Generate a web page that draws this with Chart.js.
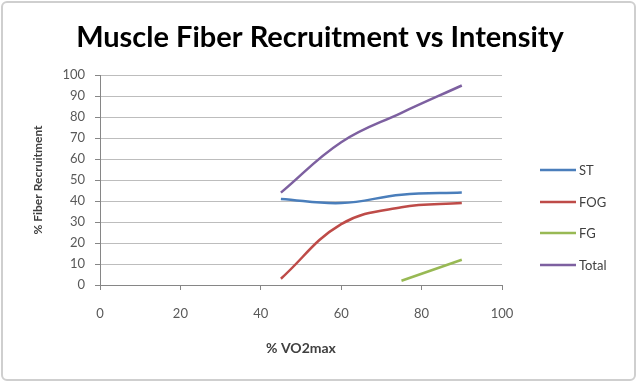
<!DOCTYPE html>
<html>
<head>
<meta charset="utf-8">
<script src="https://cdn.jsdelivr.net/npm/chart.js@4"></script>
<style>
  body { margin: 0; background: #fff; }
  #wrap { width: 637px; height: 382px; }
</style>
</head>
<body>
<div id="wrap"><canvas id="myChart" width="637" height="382"></canvas></div>
<script>
// Chart data
var stX = [45, 60, 75, 90],
    stVals = [41, 39, 43, 44];
var fogX = [45, 60, 75, 90],
    fogVals = [3, 29, 37, 39];
var fgX = [75, 90],
    fgVals = [2, 12];
var totalX = [45, 60, 75, 90],
    totalVals = [44, 68, 82, 95];

var seriesNames = ["ST", "FOG", "FG", "Total"];
var seriesColors = ['#4a7ebb', '#be4b48', '#98b954', '#7d60a0'];
var xTicks = [0, 20, 40, 60, 80, 100];
var yTicks = [0, 10, 20, 30, 40, 50, 60, 70, 80, 90, 100];
var chartTitle = 'Muscle Fiber Recruitment vs Intensity';

function pts(xs, ys) {
    return xs.map(function (x, i) { return { x: x, y: ys[i] }; });
}

var allX = [stX, fogX, fgX, totalX];
var allY = [stVals, fogVals, fgVals, totalVals];

var datasets = seriesNames.map(function (name, i) {
    return {
        label: name,
        data: pts(allX[i], allY[i]),
        borderColor: seriesColors[i],
        backgroundColor: seriesColors[i],
        borderWidth: 2.5,
        showLine: true,
        pointRadius: 0,
        tension: 0.4,
        fill: false
    };
});

// frame, title and legend drawn on the canvas
var framePlugin = {
    id: 'frame',
    beforeDraw: function (chart) {
        var c = chart.ctx;
        c.save();
        c.fillStyle = '#fff';
        c.fillRect(0, 0, chart.width, chart.height);
        c.strokeStyle = '#cfcfcf';
        c.lineWidth = 2;
        c.beginPath();
        c.roundRect(2, 2, chart.width - 4, chart.height - 4, 5);
        c.stroke();

        c.fillStyle = '#000';
        c.font = 'bold 29px Lato';
        c.textAlign = 'center';
        c.textBaseline = 'middle';
        c.fillText(chartTitle, 320, 38);
        c.restore();
    },
    afterDraw: function (chart) {
        var c = chart.ctx;
        var ys = [170, 202, 233, 265];
        c.save();
        c.font = '13px Lato';
        c.textBaseline = 'middle';
        chart.data.datasets.forEach(function (ds, i) {
            c.strokeStyle = ds.borderColor;
            c.lineWidth = 2.5;
            c.beginPath();
            c.moveTo(540, ys[i]);
            c.lineTo(576, ys[i]);
            c.stroke();
            c.fillStyle = '#404040';
            c.fillText(ds.label, 579, ys[i] + 1);
        });
        c.restore();
    }
};

var ctx = document.getElementById('myChart').getContext('2d');

var myChart = new Chart(ctx, {
    type: 'scatter',
    data: { datasets: datasets },
    plugins: [framePlugin],
    options: {
        responsive: false,
        animation: false,
        layout: { padding: { left: 0, top: 75, right: 135, bottom: 0 } },
        plugins: {
            legend: { display: false },
            tooltip: { enabled: false },
            title: { display: false }
        },
        scales: {
            x: {
                type: 'linear',
                min: 0,
                max: 100,
                afterBuildTicks: function (axis) {
                    axis.ticks = xTicks.map(function (v) { return { value: v }; });
                },
                afterFit: function (axis) { axis.height = 97; },
                grid: {
                    drawOnChartArea: false,
                    drawTicks: true,
                    tickLength: 5,
                    color: '#868686'
                },
                border: { color: '#868686', width: 1 },
                ticks: {
                    padding: 16,
                    color: '#595959',
                    font: { family: 'Lato', size: 13 }
                },
                title: {
                    display: true,
                    text: '% VO2max',
                    color: '#404040',
                    font: { family: 'Lato', size: 14, weight: 'bold' },
                    padding: { top: 0, bottom: 25 }
                }
            },
            y: {
                type: 'linear',
                min: 0,
                max: 100,
                afterBuildTicks: function (axis) {
                    axis.ticks = yTicks.map(function (v) { return { value: v }; });
                },
                afterFit: function (axis) { axis.width = 100; },
                grid: {
                    color: '#bdbdbd',
                    tickColor: '#868686',
                    tickLength: 5
                },
                border: { color: '#868686', width: 1 },
                ticks: {
                    padding: 10,
                    color: '#595959',
                    font: { family: 'Lato', size: 13 }
                },
                title: {
                    display: true,
                    text: '% Fiber Recruitment',
                    color: '#404040',
                    font: { family: 'Lato', size: 12, weight: 'bold' },
                    padding: { top: 31, bottom: 0 }
                }
            }
        }
    }
});
</script>
</body>
</html>
